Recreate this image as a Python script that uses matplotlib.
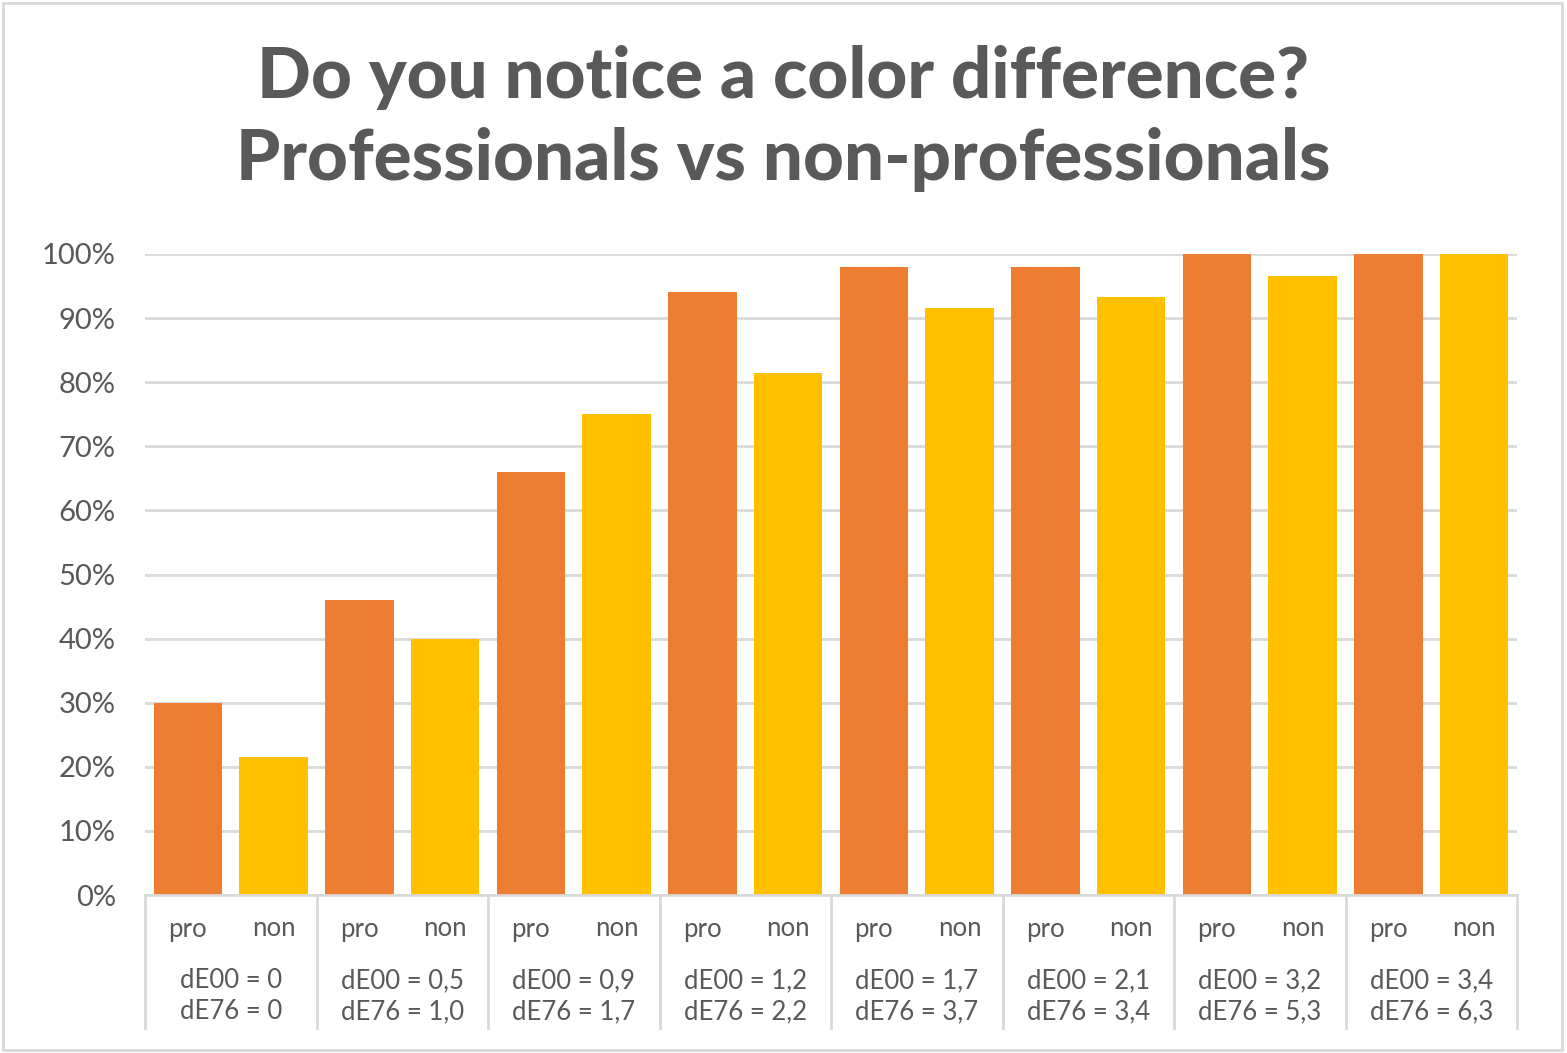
import matplotlib.pyplot as plt
import matplotlib.patches as patches
from matplotlib.transforms import blended_transform_factory
import numpy as np

# data
groups = ["dE00 = 0\ndE76 = 0", "dE00 = 0,5\ndE76 = 1,0", "dE00 = 0,9\ndE76 = 1,7",
          "dE00 = 1,2\ndE76 = 2,2", "dE00 = 1,7\ndE76 = 3,7", "dE00 = 2,1\ndE76 = 3,4",
          "dE00 = 3,2\ndE76 = 5,3", "dE00 = 3,4\ndE76 = 6,3"]
sub_labels = ["pro", "non"]
pro_values = [30, 46, 66, 94, 98, 98, 100, 100]
non_values = [21.5, 40, 75, 81.5, 91.5, 93.3, 96.5, 100]
yticks = [0, 10, 20, 30, 40, 50, 60, 70, 80, 90, 100]

orange = "#ED7D31"
gold = "#FFC000"
text_col = "#595959"
grid_col = "#D9D9D9"

plt.rcParams['font.family'] = ['Lato', 'DejaVu Sans']

fig = plt.figure(figsize=(15.67, 10.53), dpi=100)
ax = fig.add_axes([145 / 1567, 1 - 895 / 1053, (1517 - 145) / 1567, (895 - 254) / 1053])

# frame round the whole chart, like the Excel chart area
fig.patches.append(patches.Rectangle((0.002, 0.003), 0.995, 0.994, transform=fig.transFigure,
                                     fill=False, edgecolor=grid_col, linewidth=2))

n = len(groups)
pos_pro = np.arange(n) * 2
pos_non = pos_pro + 1
ax.bar(pos_pro, pro_values, width=0.8, color=orange, zorder=3)
ax.bar(pos_non, non_values, width=0.8, color=gold, zorder=3)

ax.set_xlim(-0.5, 2 * n - 0.5)
ax.set_ylim(0, 100)
ax.set_yticks(yticks)
ax.set_yticklabels([f"{v}%" for v in yticks])
ax.tick_params(axis='y', length=0, pad=21, labelsize=21, labelcolor=text_col)
ax.tick_params(axis='x', length=0, labelbottom=False)
ax.grid(axis='y', color=grid_col, linewidth=2, zorder=0)
for s in ["top", "right", "left"]:
    ax.spines[s].set_visible(False)
ax.spines["bottom"].set_color(grid_col)
ax.spines["bottom"].set_linewidth(2)
ax.spines["bottom"].set_zorder(4)

# multi-level category axis
tr = blended_transform_factory(ax.transData, ax.transAxes)
axis_h = (895 - 254)
sep_bottom = -(1028 - 895) / axis_h
for i in range(n + 1):
    x = 2 * i - 0.5
    ax.plot([x, x], [0, sep_bottom], transform=tr, color=grid_col, linewidth=2, clip_on=False)
for i in range(n):
    ax.text(pos_pro[i], -(929 - 895) / axis_h, sub_labels[0], transform=tr, ha='center', va='center',
            fontsize=18.5, color=text_col)
    ax.text(pos_non[i], -(929 - 895) / axis_h, sub_labels[1], transform=tr, ha='center', va='center',
            fontsize=18.5, color=text_col)
    ax.text(pos_pro[i] + 0.5, -(996 - 895) / axis_h, groups[i], transform=tr, ha='center', va='center',
            fontsize=18.5, color=text_col, linespacing=1.3)

fig.text(0.5, 1 - 78 / 1053, "Do you notice a color difference?", ha='center', va='center',
         fontsize=51, fontweight='black', color=text_col)
fig.text(0.5, 1 - 160 / 1053, "Professionals vs non-professionals", ha='center', va='center',
         fontsize=51, fontweight='black', color=text_col)

fig.savefig("out.png", dpi=100)
